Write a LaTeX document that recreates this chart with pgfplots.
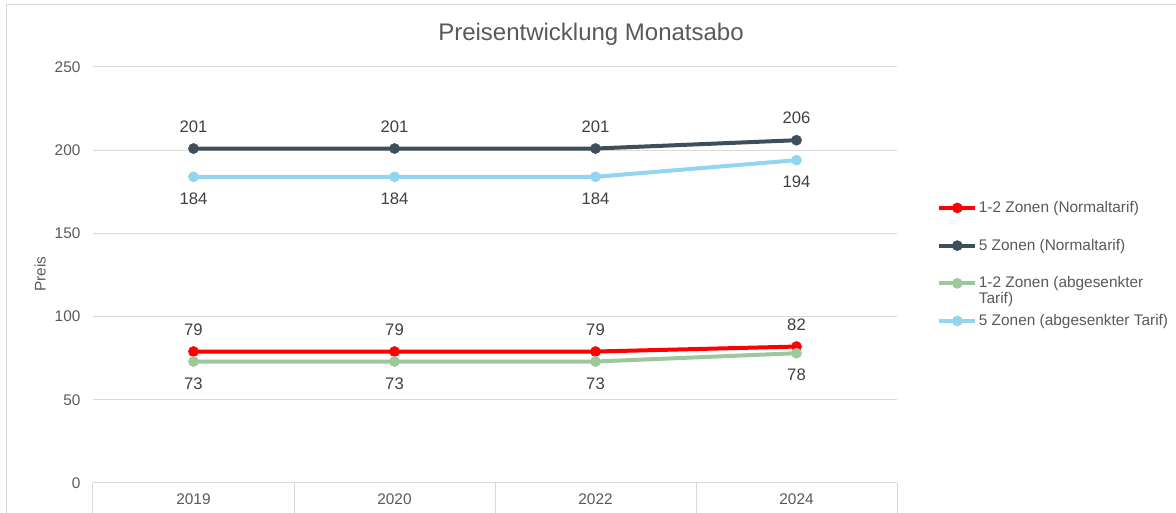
\documentclass[border=0pt]{standalone}
\usepackage{fontspec}
\setmainfont{Liberation Sans}
\usepackage{pgfplots}
\pgfplotsset{compat=1.18}

\definecolor{rotlinie}{HTML}{FF0000}
\definecolor{dunkel}{HTML}{3E4F5C}
\definecolor{gruen}{HTML}{9DC89B}
\definecolor{hellblau}{HTML}{92D5F0}
\definecolor{textgrau}{HTML}{595959}
\definecolor{labelgrau}{HTML}{404040}
\definecolor{gitter}{HTML}{D9D9D9}

\begin{document}
\begin{tikzpicture}[font=\fontsize{11.55}{13.5}\selectfont]
% Bildgroesse 1176x513 px, 1 px = 0.75 pt, Ursprung = Achsenecke unten links
\useasboundingbox (-69.75pt,-22.5pt) rectangle (812.25pt,362.25pt);
\clip (-69.75pt,-22.5pt) rectangle (812.25pt,362.25pt);
\draw[gitter, line width=0.75pt] (-64.5pt,-40pt) -- (-64.5pt,358.5pt) -- (830pt,358.5pt);

\begin{axis}[
    at={(0pt,0pt)}, anchor=south west,
    scale only axis,
    width=603pt, height=312pt,
    xmin=-0.5, xmax=3.5,
    ymin=0, ymax=250,
    clip=false,
    axis line style={draw=none},
    major tick length=0pt,
    xtick={0,1,2,3},
    xticklabels={2019,2020,2022,2024},
    ytick={0,50,...,250},
    ymajorgrids,
    grid style={draw=gitter, line width=0.75pt},
    tick label style={text=textgrau, font=\fontsize{11.55}{13.5}\selectfont},
    /pgf/number format/assume math mode=true,
    yticklabel style={xshift=-5.9pt},
    xticklabel style={yshift=-4.75pt},
    ylabel={Preis},
    ylabel style={at={(axis description cs:-0.0659,0.5024)}, anchor=center, text=textgrau},
    title={Preisentwicklung Monatsabo},
    title style={at={(axis description cs:0.6194,1.060)}, anchor=center,
        text=textgrau, font=\fontsize{18}{21}\selectfont},
    every axis plot/.append style={line width=3pt, mark=*, mark size=3.8pt,
        mark options={line width=0.4pt}},
    nodes near coords,
    every node near coord/.append style={anchor=center, text=labelgrau,
        font=\fontsize{12.5}{14}\selectfont},
    legend image code/.code={
        \draw[mark repeat=2, mark phase=2, #1] plot coordinates {(0pt,0pt) (13.5pt,0pt) (27pt,0pt)};
    },
    legend cell align=left,
    legend style={at={(axis description cs:1.0498,0.6815)}, anchor=north west,
        draw=none, fill=none, inner sep=0pt, row sep=16pt,
        text=textgrau, font=\fontsize{11.55}{13.5}\selectfont,
        nodes={inner sep=1.2pt}},
]

\addplot[rotlinie, every node near coord/.append style={yshift=16.5pt}]
    coordinates {(0,79) (1,79) (2,79) (3,82)};
\addlegendentry{1-2 Zonen (Normaltarif)}

\addplot[dunkel, every node near coord/.append style={yshift=16.5pt}]
    coordinates {(0,201) (1,201) (2,201) (3,206)};
\addlegendentry{5 Zonen (Normaltarif)}

\addplot[gruen, every node near coord/.append style={yshift=-16.5pt}]
    coordinates {(0,73) (1,73) (2,73) (3,78)};
\addlegendentry{\raisebox{0pt}[\height][4pt]{\vtop{\baselineskip=11.5pt\hbox{1-2 Zonen (abgesenkter}\hbox{Tarif)}}}}

\addplot[hellblau, every node near coord/.append style={yshift=-16.5pt}]
    coordinates {(0,184) (1,184) (2,184) (3,194)};
\addlegendentry{5 Zonen (abgesenkter Tarif)}

% Trennlinien der Kategorien unter der Achse
\pgfplotsinvokeforeach{-0.5,0.5,1.5,2.5,3.5}{
    \draw[gitter, line width=0.75pt] (axis cs:#1,0) -- ++(0pt,-30pt);
}
\end{axis}
\end{tikzpicture}
\end{document}
